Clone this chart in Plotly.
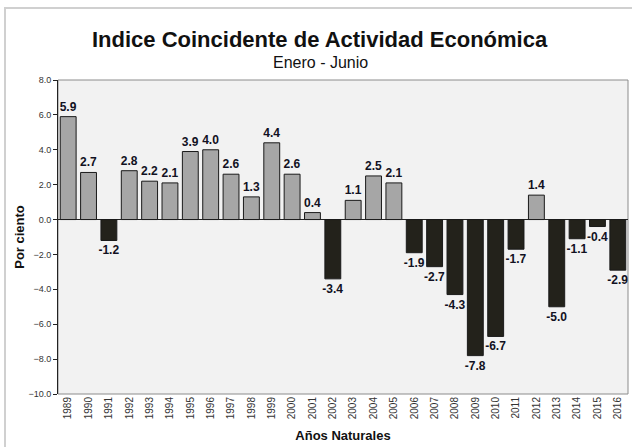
import plotly.graph_objects as go

years = [str(y) for y in range(1989, 2017)]
values = [5.9, 2.7, -1.2, 2.8, 2.2, 2.1, 3.9, 4.0, 2.6, 1.3, 4.4, 2.6, 0.4, -3.4,
          1.1, 2.5, 2.1, -1.9, -2.7, -4.3, -7.8, -6.7, -1.7, 1.4, -5.0, -1.1, -0.4, -2.9]
labels = ["%.1f" % v for v in values]
y_ticks = [8, 6, 4, 2, 0, -2, -4, -6, -8, -10]

colors = ["#a6a6a6" if v >= 0 else "#23221b" for v in values]

fig = go.Figure()
fig.add_trace(go.Bar(
    x=years, y=values, text=labels, textposition="outside", constraintext="none",
    texttemplate="<b>%{text}</b>",
    marker=dict(color=colors, line=dict(color="#1a1a1a", width=1)),
    textfont=dict(family="Arial, Liberation Sans", size=12, color="#111122"),
    cliponaxis=False, width=0.78,
))

fig.update_layout(
    width=632, height=447,
    margin=dict(l=58, r=4, t=80, b=53),
    paper_bgcolor="white", plot_bgcolor="#f2f2f2",
    showlegend=False,
    font=dict(family="Arial, Liberation Sans"),
    xaxis=dict(
        type="category", tickangle=-90, tickfont=dict(size=10, color="#333"),
        showgrid=False, showline=False, ticks="",
        title=dict(text="<b>Años Naturales</b>", font=dict(size=13, color="#111"), standoff=12),
    ),
    yaxis=dict(
        range=[-10, 8], tickvals=y_ticks, tickformat=".1f",
        tickfont=dict(size=9, color="#333"), showgrid=False,
        showline=True, linecolor="#222", linewidth=1, ticks="outside", ticklen=4, tickcolor="#222",
        zeroline=True, zerolinecolor="#222", zerolinewidth=1,
        title=dict(text="<b>Por ciento</b>", font=dict(size=13, color="#111"), standoff=0),
    ),
    shapes=[
        dict(type="rect", xref="paper", yref="paper", x0=0, x1=1, y0=0, y1=1,
             line=dict(color="#8c8c8c", width=1), layer="below"),
        dict(type="rect", xref="paper", yref="paper", x0=-0.093, x1=1.1, y0=-0.3, y1=1.229,
             line=dict(color="#d0d0d0", width=2)),
    ],
    annotations=[
        dict(text="<b>Indice Coincidente de Actividad Económica</b>", xref="paper", yref="paper",
             x=0.46, y=1.13, xanchor="center", yanchor="middle", showarrow=False,
             font=dict(size=22, color="#111")),
        dict(text="Enero - Junio", xref="paper", yref="paper",
             x=0.46, y=1.057, xanchor="center", yanchor="middle", showarrow=False,
             font=dict(size=16, color="#111")),
    ],
)

fig.write_html("out.html", config={"displayModeBar": False},
               post_script="document.body.style.margin='0';")
